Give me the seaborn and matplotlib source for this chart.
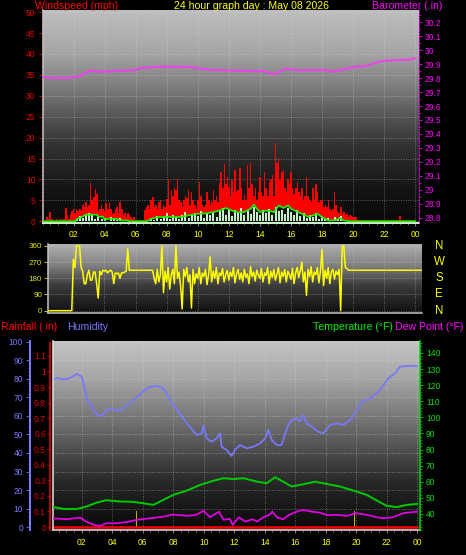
import matplotlib
matplotlib.use("Agg")

import matplotlib.pyplot as plt
import matplotlib.transforms as mtransforms
import numpy as np
import seaborn as sns
from matplotlib.ticker import FixedLocator, FuncFormatter, MultipleLocator

W, H, DPI = 466, 555, 72

# ---------------- data ----------------
TITLE = "24 hour graph day : May 08 2026"

# wind gust (mph), one value every 0.1 h from 00:00 to 24:00
gust = [
    0.3, 0.3, 0.3, 1.0, 0.5, 2.2, 0.5, 0.3, 0.3, 0.5,
    0.3, 0.3, 0.5, 0.3, 0.5, 3.1, 1.5, 0.5, 1.8, 2.5,
    3.0, 2.0, 3.0, 2.5, 3.0, 2.5, 4.0, 3.5, 4.5, 3.5,
    4.0, 9.2, 5.0, 5.8, 7.8, 6.5, 2.5, 3.0, 4.0, 3.0,
    2.5, 4.4, 3.0, 4.5, 3.0, 1.8, 2.0, 3.0, 3.5, 2.0,
    4.6, 3.0, 1.5, 2.0, 1.0, 2.0, 1.5, 1.0, 0.5, 1.0,
    0.3, 0.3, 0.3, 0.3, 0.3, 0.3, 2.6, 3.5, 4.0, 3.0,
    5.0, 5.7, 3.5, 4.0, 3.0, 4.5, 5.0, 3.0, 4.0, 3.5,
    5.3, 10.1, 4.0, 7.5, 6.0, 8.0, 7.5, 10.0, 5.0, 4.5,
    3.5, 5.0, 6.0, 5.5, 7.4, 4.0, 7.0, 5.0, 4.0, 3.0,
    5.0, 9.4, 6.0, 4.0, 3.5, 4.0, 7.0, 5.0, 4.0, 4.5,
    7.5, 5.0, 6.0, 4.5, 9.2, 11.8, 8.0, 13.8, 9.0, 10.6,
    8.2, 6.0, 9.8, 7.0, 12.3, 7.0, 7.4, 12.7, 8.0, 5.0,
    6.5, 5.0, 13.5, 8.0, 13.9, 9.0, 6.0, 8.0, 5.0, 7.0,
    10.6, 7.0, 6.0, 11.9, 8.0, 6.0, 9.5, 10.0, 11.0, 6.0,
    18.7, 14.0, 15.1, 10.0, 11.9, 12.3, 8.0, 7.0, 10.0, 9.0,
    11.9, 8.0, 6.5, 8.0, 9.4, 7.0, 6.0, 8.0, 5.0, 6.0,
    10.6, 6.0, 5.0, 4.5, 8.0, 5.0, 9.0, 7.0, 4.5, 5.0,
    5.0, 3.5, 4.0, 3.5, 5.0, 3.0, 2.5, 3.0, 7.0, 4.0,
    2.5, 2.0, 3.4, 1.8, 2.3, 1.5, 1.8, 1.0, 1.5, 1.2,
    1.1, 1.1, 1.1, 0.3, 0.3, 0.3, 0.3, 0.3, 0.3, 0.3,
    0.3, 0.3, 0.3, 0.3, 0.3, 0.3, 0.3, 0.3, 0.3, 0.3,
    0.3, 0.3, 0.3, 0.3, 0.3, 0.3, 0.3, 0.3, 0.3, 0.3,
    1.2, 0.3, 0.3, 0.3, 0.3, 0.3, 0.3, 0.3, 0.3, 0.3,
    0.3,
]
gust_hours = np.arange(len(gust)) * 0.1

# wind speed (mph), one value every 0.2 h
speed = [
    0, 0, 0, 0, 0,
    0, 0, 0, 0, 0,
    0, 0.5, 1.2, 0.8, 1.8,
    2.0, 1.5, 0.6, 1.2, 0.5,
    0.8, 0, 1.0, 0.5, 0.3,
    0.8, 0, 0.3, 0, 0,
    0, 0, 0, 0, 0.3,
    0.8, 0.3, 1.2, 0.6, 1.0,
    2.0, 0.5, 1.6, 1.0, 0.6,
    1.5, 2.2, 0.8, 1.5, 2.0,
    1.2, 2.4, 0.8, 2.0, 1.4,
    2.2, 1.0, 2.8, 3.2, 1.6,
    3.0, 1.2, 2.6, 2.0, 3.2,
    1.5, 2.8, 1.8, 3.4, 2.2,
    1.4, 2.6, 2.0, 3.0, 1.6,
    3.5, 2.4, 2.8, 1.8, 3.2,
    2.2, 1.6, 2.8, 1.2, 2.0,
    0.8, 1.6, 1.0, 2.0, 0.6,
    1.2, 0.5, 0.8, 0.3, 1.0,
    0.5, 1.2, 0.3, 0, 0,
    0, 0, 0, 0, 0,
    0, 0, 0, 0, 0,
    0, 0, 0, 0, 0,
    0, 0, 0, 0, 0,
    0,
]
speed_hours = np.arange(len(speed)) * 0.2

# average wind (mph)
avg_hours = [0.0, 2.1, 2.2, 2.5, 2.8, 3.5, 3.6, 3.9, 4.0, 4.2, 4.8, 5.0, 5.5,
             5.6, 6.7, 7.0, 7.4, 8.0, 8.5, 9.0, 9.5, 10.0, 10.5, 11.0, 11.5,
             11.8, 12.1, 12.5, 12.95, 13.4, 13.6, 13.8, 14.0, 14.45, 14.9,
             15.2, 15.5, 15.8, 16.0, 16.4, 16.7, 17.1, 17.5, 17.7, 18.0,
             18.4, 18.9, 19.1, 19.4, 19.8, 24.0]
avg_wind = [0.0, 0.0, 0.5, 1.0, 1.6, 1.6, 1.1, 1.1, 0.4, 0.6, 0.6, 0.2, 0.2,
            0.0, 0.0, 0.6, 1.0, 1.1, 1.0, 1.1, 1.5, 1.8, 1.9, 2.2, 2.7,
            3.2, 2.7, 2.2, 2.2, 3.0, 4.0, 3.0, 2.2, 2.6, 2.2,
            3.8, 3.2, 3.8, 3.0, 2.3, 1.8, 1.1, 1.5, 1.8, 1.0,
            0.2, 0.3, 0.8, 0.2, 0.0, 0.0]

# barometer (in)
baro_hours = [0.0, 0.8, 1.65, 2.4, 3.07, 3.5, 4.37, 5.86, 6.3, 7.15, 8.45,
              9.55, 10.2, 11.0, 12.3, 13.86, 14.2, 14.83, 15.7, 16.45, 18.2,
              18.7, 19.7, 20.1, 20.76, 21.4, 22.06, 23.57, 24.0]
barometer = [29.809, 29.800, 29.800, 29.814, 29.855, 29.845, 29.848, 29.855,
             29.871, 29.879, 29.881, 29.879, 29.866, 29.857, 29.852, 29.848,
             29.852, 29.826, 29.866, 29.855, 29.857, 29.845, 29.869, 29.881,
             29.884, 29.909, 29.924, 29.931, 29.941]

# wind direction (degrees), one value every 0.1 h from 00:00 to 24:24
direction = [
    0, 0, 0, 0, 0, 0, 0, 0, 0, 0,
    0, 0, 0, 0, 0, 0, 0, 0, 0, 0,
    285, 240, 360, 360, 360, 240, 220, 150, 150, 200,
    225, 170, 170, 215, 215, 150, 70, 220, 200, 225,
    220, 225, 210, 220, 225, 215, 150, 210, 205, 210,
    180, 210, 210, 215, 220, 345, 225, 225, 225, 225,
    225, 225, 225, 225, 225, 225, 225, 225, 225, 225,
    225, 225, 180, 150, 230, 160, 200, 360, 100, 220,
    160, 240, 120, 200, 230, 150, 360, 180, 215, 140,
    10, 230, 190, 240, 160, 200, 15, 230, 150, 205,
    180, 240, 150, 210, 190, 230, 145, 200, 300, 160,
    220, 180, 240, 150, 210, 195, 235, 160, 200, 225,
    170, 215, 190, 240, 155, 205, 230, 175, 210, 160,
    230, 185, 205, 150, 245, 190, 215, 165, 225, 200,
    180, 235, 160, 210, 195, 240, 150, 220, 185, 230,
    170, 205, 240, 155, 215, 190, 230, 160, 220, 200,
    175, 235, 150, 210, 240, 185, 220, 270, 160, 215,
    85, 230, 190, 245, 160, 215, 200, 240, 155, 220,
    340, 140, 225, 180, 240, 150, 215, 230, 175, 220,
    200, 230, 0, 360, 360, 240, 235, 225, 225, 225,
    225, 225, 225, 225, 225, 225, 225, 225, 225, 225,
    225, 225, 225, 225, 225, 225, 225, 225, 225, 225,
    225, 225, 225, 225, 225, 225, 225, 225, 225, 225,
    225, 225, 225, 225, 225, 225, 225, 225, 225, 225,
    225, 225, 225, 225, 225,
]
dir_hours = np.arange(len(direction)) * 0.1
COMPASS = ["N", "W", "S", "E", "N"]
COMPASS_DEG = [360, 270, 180, 90, 0]

# humidity (%)
hum_hours = [0.0, 0.36, 0.8, 1.23, 1.67, 2.0, 2.2, 2.43, 2.65, 2.76, 3.1, 3.4,
             3.6, 3.97, 4.3, 4.62, 4.95, 5.28, 5.7, 6.15, 6.48, 6.92, 7.35,
             7.68, 8.0, 8.33, 8.66, 9.1, 9.54, 9.87, 9.97, 10.2, 10.5, 10.85,
             11.07, 11.18, 11.5, 11.84, 12.05, 12.38, 12.82, 13.25, 13.7,
             14.02, 14.24, 14.46, 14.79, 15.1, 15.34, 15.55, 15.77, 16.1,
             16.31, 16.53, 16.75, 17.08, 17.51, 17.85, 18.28, 18.72, 19.15,
             19.6, 19.92, 20.36, 20.9, 21.45, 21.89, 22.1, 22.55, 22.87,
             23.3, 24.0]
humidity = [79.8, 80.4, 79.8, 80.4, 82.7, 81.3, 74.0, 66.9, 66.0, 63.2, 60.0,
            60.5, 63.2, 64.1, 62.9, 63.2, 65.9, 67.7, 70.8, 74.1, 75.8, 76.2,
            75.0, 70.4, 65.9, 62.3, 58.7, 53.9, 49.7, 50.6, 54.8, 47.9, 46.1,
            47.9, 50.6, 43.4, 41.6, 38.4, 41.6, 44.3, 42.5, 43.4, 45.2, 47.9,
            52.4, 47.0, 44.3, 44.3, 50.6, 55.1, 57.8, 58.7, 57.0, 60.5, 56.0,
            54.2, 51.5, 50.6, 55.1, 56.0, 55.1, 57.8, 61.4, 67.7, 69.5, 73.1,
            77.7, 80.4, 83.1, 86.6, 87.0, 87.0]

# temperature and dew point (F)
temp_hours = [0.0, 0.8, 1.67, 2.3, 2.98, 3.6, 4.5, 5.4, 6.04, 6.7, 7.35, 8.0,
              8.9, 9.76, 10.6, 11.3, 11.94, 12.6, 13.5, 14.13, 14.68, 15.22,
              15.77, 16.31, 17.3, 18.06, 18.94, 19.81, 20.69, 21.35, 22.0,
              22.66, 23.3, 24.0]
temperature = [44.5, 43.1, 43.1, 44.5, 47.0, 48.5, 47.7, 47.5, 46.6, 45.6,
               48.7, 51.8, 54.5, 58.0, 60.5, 62.2, 61.6, 62.2, 60.0, 59.1,
               62.8, 60.0, 57.0, 58.0, 60.0, 58.6, 57.0, 54.5, 51.8, 48.3,
               45.0, 44.2, 45.6, 46.2]
dew_hours = [0.0, 1.0, 1.9, 2.3, 2.8, 3.2, 3.6, 4.3, 5.0, 5.6, 6.5, 7.35, 8.0,
             8.9, 9.5, 10.0, 10.4, 11.0, 11.3, 11.7, 11.9, 12.3, 12.75, 13.2,
             13.5, 13.9, 14.3, 14.5, 14.8, 15.2, 15.6, 16.1, 16.5, 17.1, 17.6,
             18.1, 18.7, 19.4, 20.0, 20.7, 21.35, 21.8, 22.4, 23.1, 24.0]
dew_point = [37.3, 36.7, 37.7, 35.2, 33.2, 32.5, 34.2, 34.2, 35.0, 36.3, 37.3,
             38.3, 39.6, 38.8, 39.4, 42.0, 37.9, 41.4, 36.3, 37.0, 33.2, 37.9,
             35.2, 36.7, 35.2, 37.9, 39.4, 41.4, 37.9, 36.7, 39.4, 41.4, 42.5,
             41.4, 40.8, 39.2, 39.4, 38.8, 40.5, 39.4, 37.9, 37.3, 37.9, 40.5,
             41.4]

# rainfall (in) and the two short yellow markers
rain_hours = [0.0, 24.0]
rain = [0.0, 0.0]
marker_hours = [5.6, 19.9]
marker_height = [0.1, 0.1]

# ---------------- styling ----------------
RED = "#ff0000"
MAGENTA = "#ff00ff"
YELLOW = "#ffff00"
HUM_BLUE = "#7878ff"
GREEN = "#00e000"

TOP_SHADE = [(0.0, 190), (0.2, 165), (0.4, 115), (0.5, 85), (0.65, 48), (0.85, 20), (1.0, 8)]
DIR_SHADE = [(0.0, 175), (0.3, 130), (0.6, 60), (1.0, 15)]
BOT_SHADE = [(0.0, 195), (0.2, 165), (0.4, 120), (0.55, 85), (0.75, 40), (1.0, 8)]
TICK_SIZE = 8.5
HEAD_SIZE = 10.5


def px_rect(left, top, right, bottom):
    return [left / W, 1 - bottom / H, (right - left) / W, (bottom - top) / H]


def shade(ax, stops, xlim, ylim):
    pos, level = zip(*stops)
    col = np.interp(np.linspace(0, 1, 256), pos, level) / 255.0
    ax.imshow(np.tile(col[:, None], (1, 2)), cmap="gray", vmin=0, vmax=1,
              extent=[xlim[0], xlim[1], ylim[0], ylim[1]], origin="upper",
              aspect="auto", interpolation="bilinear", zorder=0)
    ax.set_xlim(xlim)
    ax.set_ylim(ylim)
    ax.set_axisbelow(True)
    ax.grid(True, which="major", color="#e0e0e0", linestyle=(0, (1, 2)),
            linewidth=0.8, alpha=0.55)


def hide_spines(ax, keep=()):
    for name, sp in ax.spines.items():
        sp.set_visible(name in keep)


hour_fmt = FuncFormatter(lambda v, p: f"{int(round(v)) % 24:02d}")
num_fmt = FuncFormatter(lambda v, p: f"{round(v, 2):g}")


def main() -> None:
    sns.set_style("ticks", {"axes.facecolor": "black", "figure.facecolor": "black"})
    plt.rcParams["font.family"] = ["Liberation Sans", "DejaVu Sans"]

    fig = plt.figure(figsize=(W / DPI, H / DPI), dpi=DPI)

    # ---- wind / barometer panel ----
    ax_w = fig.add_axes(px_rect(42.5, 10, 418.5, 223))
    shade(ax_w, TOP_SHADE, (0, 24.2), (-0.4, 50.5))
    ax_w.fill_between(gust_hours, gust, color=RED, step="mid", linewidth=0, zorder=2)
    ax_w.fill_between(avg_hours, avg_wind, color="#141414", linewidth=0, zorder=3)
    ax_w.bar(speed_hours, speed, width=0.13, color="#c8f0c8", linewidth=0, zorder=4)
    sns.lineplot(x=avg_hours, y=avg_wind, ax=ax_w, color="#00ff00", linewidth=1.6, zorder=5)
    ax_w.set_xticks(range(2, 25, 2))
    ax_w.xaxis.set_major_formatter(hour_fmt)
    ax_w.xaxis.set_minor_locator(MultipleLocator(0.5))
    ax_w.tick_params(axis="x", which="major", colors="#a0a0a0", labelcolor=YELLOW,
                     length=3, pad=4, labelsize=TICK_SIZE)
    ax_w.tick_params(axis="x", which="minor", colors="#a0a0a0", length=2)
    ax_w.yaxis.set_major_locator(MultipleLocator(5))
    ax_w.yaxis.set_minor_locator(MultipleLocator(1))
    ax_w.tick_params(axis="y", which="major", colors="#e80000", labelsize=TICK_SIZE, length=4, pad=3)
    ax_w.tick_params(axis="y", which="minor", colors="#e80000", length=2)
    hide_spines(ax_w, ("left", "bottom"))
    ax_w.spines["left"].set_color("#c8c8c8")
    ax_w.spines["left"].set_linewidth(1.5)
    ax_w.spines["bottom"].set_color("#c8f0c8")
    ax_w.spines["bottom"].set_linewidth(2)

    ax_b = ax_w.twinx()
    ax_b.set_ylim(28.764, 30.286)
    sns.lineplot(x=baro_hours, y=barometer, ax=ax_b, color="#f040f0", linewidth=2)
    ax_b.set_xlim(0, 24.2)
    ax_b.grid(False)
    ax_b.yaxis.set_major_locator(MultipleLocator(0.1))
    ax_b.yaxis.set_minor_locator(MultipleLocator(0.05))
    ax_b.yaxis.set_major_formatter(num_fmt)
    ax_b.tick_params(axis="y", which="major", colors=MAGENTA, labelsize=TICK_SIZE, length=3, pad=3)
    ax_b.tick_params(axis="y", which="minor", colors=MAGENTA, length=2)
    hide_spines(ax_b, ("right",))
    ax_b.spines["right"].set_color(MAGENTA)
    ax_b.spines["right"].set_linestyle((0, (2, 2)))
    ax_b.set_ylabel("")

    # ---- wind direction panel ----
    ax_d = fig.add_axes(px_rect(48, 244, 421.5, 313))
    shade(ax_d, DIR_SHADE, (0.37, 24.4), (-13, 371))
    sns.lineplot(x=dir_hours, y=direction, ax=ax_d, color=YELLOW, linewidth=1.5, zorder=3)
    ax_d.set_xlim(0.37, 24.4)
    ax_d.set_ylim(-13, 371)
    ax_d.set_xticks(range(2, 25, 2))
    ax_d.set_xticklabels([])
    ax_d.tick_params(axis="x", length=0)
    ax_d.yaxis.set_major_locator(FixedLocator([0, 90, 180, 270, 360]))
    ax_d.tick_params(axis="y", colors="#e8e800", labelsize=8, length=4, pad=2)
    hide_spines(ax_d, ("left", "bottom"))
    for name in ("left", "bottom"):
        ax_d.spines[name].set_color("#c8c8c8")
        ax_d.spines[name].set_linewidth(1.5)
    blend = mtransforms.blended_transform_factory(ax_d.transAxes, ax_d.transData)
    for lab, deg in zip(COMPASS, COMPASS_DEG):
        ax_d.text(1.047, deg, lab, transform=blend, color=YELLOW, fontsize=11.5,
                  ha="center", va="center", clip_on=False)

    # ---- humidity / rain / temperature panel ----
    ax_h = fig.add_axes(px_rect(53, 341, 420, 530))
    shade(ax_h, BOT_SHADE, (0.12, 24.18), (-1.6, 100.5))
    sns.lineplot(x=hum_hours, y=humidity, ax=ax_h, color=HUM_BLUE, linewidth=1.8, zorder=3)
    ax_h.set_xlim(0.12, 24.18)
    ax_h.set_ylim(-1.6, 100.5)
    ax_h.set_xticks(range(2, 25, 2))
    ax_h.xaxis.set_major_formatter(hour_fmt)
    ax_h.xaxis.set_minor_locator(MultipleLocator(0.5))
    ax_h.tick_params(axis="x", which="major", colors="#a0a0a0", labelcolor=YELLOW,
                     length=3, pad=5, labelsize=TICK_SIZE)
    ax_h.tick_params(axis="x", which="minor", colors="#a0a0a0", length=2)
    ax_h.yaxis.set_major_locator(MultipleLocator(10))
    ax_h.yaxis.set_minor_locator(MultipleLocator(2))
    ax_h.tick_params(axis="y", which="major", colors=HUM_BLUE, labelsize=TICK_SIZE, length=4, pad=3)
    ax_h.tick_params(axis="y", which="minor", colors=HUM_BLUE, length=2)
    hide_spines(ax_h, ("left", "bottom"))
    ax_h.spines["left"].set_position(("outward", 23))
    ax_h.spines["left"].set_color(HUM_BLUE)
    ax_h.spines["left"].set_linewidth(2)
    ax_h.spines["bottom"].set_color("#e8e8e8")
    ax_h.spines["bottom"].set_linewidth(1.5)

    ax_r = ax_h.twinx()
    ax_r.set_ylim(-0.019, 1.196)
    ax_r.yaxis.tick_left()
    ax_r.bar(marker_hours, marker_height, width=0.07, color="#c8b000", linewidth=0, zorder=2)
    sns.lineplot(x=rain_hours, y=rain, ax=ax_r, color=RED, linewidth=2.5, zorder=4)
    ax_r.set_xlim(0.12, 24.18)
    ax_r.grid(False)
    ax_r.yaxis.set_major_locator(MultipleLocator(0.1))
    ax_r.yaxis.set_major_formatter(num_fmt)
    ax_r.tick_params(axis="y", colors="#e00000", labelsize=TICK_SIZE, length=3, pad=1)
    hide_spines(ax_r, ("left",))
    ax_r.spines["left"].set_position(("outward", 3))
    ax_r.spines["left"].set_color(RED)
    ax_r.spines["left"].set_linestyle((0, (1, 1)))
    ax_r.spines["left"].set_linewidth(1.5)
    ax_r.set_ylabel("")

    ax_t = ax_h.twinx()
    ax_t.set_ylim(30, 147.4)
    sns.lineplot(x=temp_hours, y=temperature, ax=ax_t, color="#00c800", linewidth=2, zorder=3)
    sns.lineplot(x=dew_hours, y=dew_point, ax=ax_t, color="#e000e0", linewidth=1.8, zorder=3)
    ax_t.set_xlim(0.12, 24.18)
    ax_t.grid(False)
    ax_t.yaxis.set_major_locator(FixedLocator(range(40, 141, 10)))
    ax_t.yaxis.set_minor_locator(MultipleLocator(2))
    ax_t.tick_params(axis="y", which="major", colors=GREEN, labelsize=TICK_SIZE, length=3, pad=3)
    ax_t.tick_params(axis="y", which="minor", colors=GREEN, length=2)
    hide_spines(ax_t, ("right", "left"))
    ax_t.spines["right"].set_color(GREEN)
    ax_t.spines["right"].set_linewidth(1.5)
    ax_t.spines["left"].set_color("#e8e8e8")
    ax_t.spines["left"].set_linewidth(1.5)
    ax_t.set_ylabel("")

    # ---- headings ----
    top_y = 1 - 6 / H
    fig.text(35 / W, top_y, "Windspeed (mph)", color=RED, fontsize=HEAD_SIZE, ha="left", va="center")
    fig.text(251 / W, top_y, TITLE, color=YELLOW, fontsize=HEAD_SIZE, ha="center", va="center")
    fig.text(372 / W, top_y, "Barometer (.in)", color=MAGENTA, fontsize=HEAD_SIZE, ha="left", va="center")
    low_y = 1 - 327 / H
    fig.text(1 / W, low_y, "Rainfall (.in)", color=RED, fontsize=HEAD_SIZE, ha="left", va="center")
    fig.text(67 / W, low_y, "Humidity", color=HUM_BLUE, fontsize=HEAD_SIZE, ha="left", va="center")
    fig.text(393 / W, low_y, "Temperature (°F)", color="#00f000", fontsize=HEAD_SIZE, ha="right", va="center")
    fig.text(463 / W, low_y, "Dew Point (°F)", color=MAGENTA, fontsize=HEAD_SIZE, ha="right", va="center")

    fig.savefig("out.png", dpi=DPI, facecolor="black")
    plt.close(fig)


if __name__ == "__main__":
    main()
